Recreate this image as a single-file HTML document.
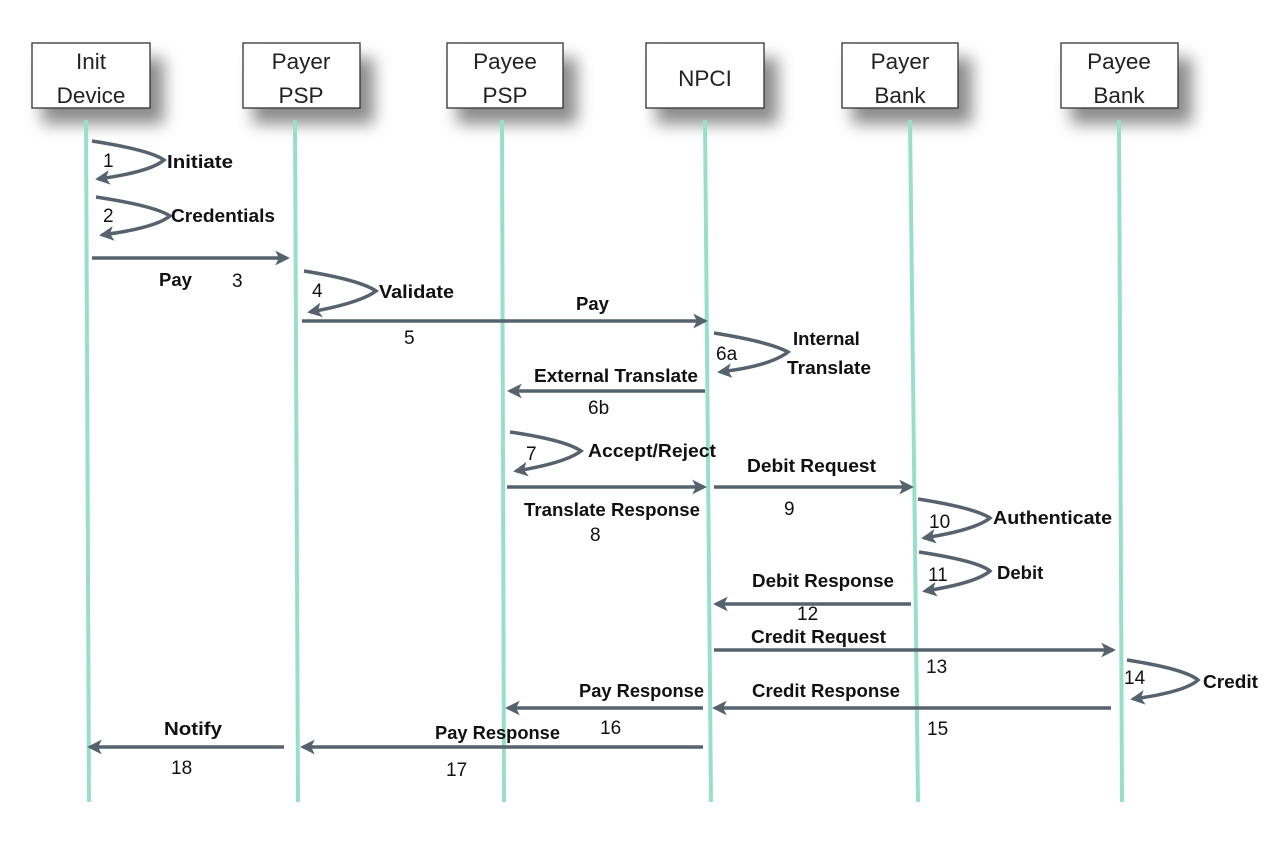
<!DOCTYPE html>
<html><head><meta charset="utf-8"><style>
html,body{margin:0;padding:0;background:#fff;}
svg{display:block;}
.b{font-family:"Liberation Sans",sans-serif;font-weight:bold;font-size:18.5px;fill:#111;}
.n{font-family:"Liberation Sans",sans-serif;font-size:19px;fill:#111;}
.h{font-family:"Liberation Sans",sans-serif;font-size:22.5px;fill:#222;text-anchor:middle;}
.ar{stroke:#56636e;stroke-width:3.5;fill:none;}
.ll{stroke:#98dfca;stroke-width:4;}
</style></head><body>
<svg width="1280" height="844" viewBox="0 0 1280 844" xmlns="http://www.w3.org/2000/svg">
<defs>
<marker id="a" viewBox="0 0 10 10" refX="8" refY="5" markerWidth="4.2" markerHeight="4.2" orient="auto" markerUnits="strokeWidth">
<path d="M0,0 L10,5 L0,10 L2.5,5 z" fill="#56636e"/></marker>
<filter id="sh" x="-40%" y="-40%" width="180%" height="200%"><feGaussianBlur stdDeviation="8"/></filter>
</defs>
<g fill="#777" opacity="0.85" filter="url(#sh)">
<rect x="42" y="58" width="122" height="66"/>
<rect x="253" y="58" width="121" height="66"/>
<rect x="457" y="58" width="120" height="66"/>
<rect x="656" y="58" width="122" height="66"/>
<rect x="852" y="58" width="120" height="66"/>
<rect x="1071" y="58" width="121" height="66"/>
</g>
<g fill="#fff" stroke="#333" stroke-width="1.3">
<rect x="32" y="43" width="118" height="65"/>
<rect x="243" y="43" width="117" height="65"/>
<rect x="447" y="43" width="116" height="65"/>
<rect x="646" y="43" width="118" height="65"/>
<rect x="842" y="43" width="116" height="65"/>
<rect x="1061" y="43" width="117" height="65"/>
</g>
<text class="h" x="91" y="69">Init</text><text class="h" x="91" y="103">Device</text>
<text class="h" x="301" y="69">Payer</text><text class="h" x="301" y="103">PSP</text>
<text class="h" x="505" y="69">Payee</text><text class="h" x="505" y="103">PSP</text>
<text class="h" x="705" y="86">NPCI</text>
<text class="h" x="900" y="69">Payer</text><text class="h" x="900" y="103">Bank</text>
<text class="h" x="1119" y="69">Payee</text><text class="h" x="1119" y="103">Bank</text>
<line class="ll" x1="86" y1="120" x2="89" y2="802"/>
<line class="ll" x1="295" y1="120" x2="298" y2="802"/>
<line class="ll" x1="502" y1="120" x2="504" y2="802"/>
<line class="ll" x1="705" y1="120" x2="711" y2="802"/>
<line class="ll" x1="910" y1="120" x2="918" y2="802"/>
<line class="ll" x1="1119" y1="120" x2="1122" y2="802"/>
<g class="ar">
<path d="M92,141 Q150,150 164,160 Q150,172 98,179" marker-end="url(#a)"/>
<path d="M96,197 Q155,206 170,216 Q155,228 102,235" marker-end="url(#a)"/>
<path d="M304,271 Q360,280 376,291 Q360,303 310,312" marker-end="url(#a)"/>
<path d="M714,333 Q770,342 788,352 Q770,366 720,372" marker-end="url(#a)"/>
<path d="M510,432 Q565,440 581,451 Q565,463 516,471" marker-end="url(#a)"/>
<path d="M918,499 Q975,508 990,518 Q975,530 924,538" marker-end="url(#a)"/>
<path d="M919,552 Q978,561 990,571 Q976,583 925,591" marker-end="url(#a)"/>
<path d="M1127,660 Q1185,669 1198,680 Q1185,692 1133,699" marker-end="url(#a)"/>
</g>
<g class="ar">
<line x1="92" y1="258" x2="287" y2="258" marker-end="url(#a)"/>
<line x1="302" y1="321" x2="705" y2="321" marker-end="url(#a)"/>
<line x1="705" y1="391" x2="510" y2="391" marker-end="url(#a)"/>
<line x1="507" y1="487" x2="704" y2="487" marker-end="url(#a)"/>
<line x1="714" y1="487" x2="911" y2="487" marker-end="url(#a)"/>
<line x1="911" y1="604" x2="716" y2="604" marker-end="url(#a)"/>
<line x1="714" y1="650" x2="1113" y2="650" marker-end="url(#a)"/>
<line x1="1111" y1="708" x2="715" y2="708" marker-end="url(#a)"/>
<line x1="703" y1="708" x2="508" y2="708" marker-end="url(#a)"/>
<line x1="703" y1="747" x2="303" y2="747" marker-end="url(#a)"/>
<line x1="284" y1="747" x2="90" y2="747" marker-end="url(#a)"/>
</g>
<text class="n" x="103" y="167">1</text><text class="b" x="167" y="168" textLength="66" lengthAdjust="spacingAndGlyphs">Initiate</text>
<text class="n" x="103" y="222">2</text><text class="b" x="171" y="222" textLength="104" lengthAdjust="spacingAndGlyphs">Credentials</text>
<text class="b" x="159" y="286">Pay</text><text class="n" x="232" y="287">3</text>
<text class="n" x="312" y="297">4</text><text class="b" x="379" y="298" textLength="75" lengthAdjust="spacingAndGlyphs">Validate</text>
<text class="b" x="576" y="310">Pay</text><text class="n" x="404" y="344">5</text>
<text class="n" x="716" y="360">6a</text><text class="b" x="793" y="345">Internal</text><text class="b" x="787" y="374" textLength="84" lengthAdjust="spacingAndGlyphs">Translate</text>
<text class="b" x="534" y="382" textLength="164" lengthAdjust="spacingAndGlyphs">External Translate</text><text class="n" x="588" y="414">6b</text>
<text class="n" x="526" y="460">7</text><text class="b" x="588" y="457" textLength="128" lengthAdjust="spacingAndGlyphs">Accept/Reject</text>
<text class="b" x="747" y="472" textLength="129" lengthAdjust="spacingAndGlyphs">Debit Request</text><text class="n" x="784" y="515">9</text>
<text class="b" x="524" y="516" textLength="176" lengthAdjust="spacingAndGlyphs">Translate Response</text><text class="n" x="590" y="541">8</text>
<text class="n" x="929" y="528">10</text><text class="b" x="993" y="524" textLength="119" lengthAdjust="spacingAndGlyphs">Authenticate</text>
<text class="n" x="928" y="581">11</text><text class="b" x="997" y="579">Debit</text>
<text class="b" x="752" y="587" textLength="142" lengthAdjust="spacingAndGlyphs">Debit Response</text><text class="n" x="797" y="620">12</text>
<text class="b" x="751" y="643" textLength="135" lengthAdjust="spacingAndGlyphs">Credit Request</text><text class="n" x="926" y="673">13</text>
<text class="n" x="1124" y="684">14</text><text class="b" x="1203" y="688" textLength="55" lengthAdjust="spacingAndGlyphs">Credit</text>
<text class="b" x="752" y="697" textLength="148" lengthAdjust="spacingAndGlyphs">Credit Response</text><text class="n" x="927" y="735">15</text>
<text class="b" x="579" y="697" textLength="125" lengthAdjust="spacingAndGlyphs">Pay Response</text><text class="n" x="600" y="734">16</text>
<text class="b" x="435" y="739" textLength="125" lengthAdjust="spacingAndGlyphs">Pay Response</text><text class="n" x="446" y="776">17</text>
<text class="b" x="164" y="735" textLength="58" lengthAdjust="spacingAndGlyphs">Notify</text><text class="n" x="171" y="774">18</text>
</svg>
</body></html>
